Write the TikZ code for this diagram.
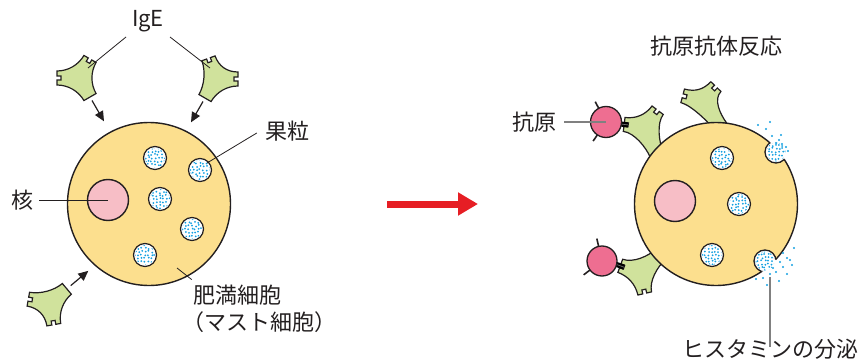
\documentclass[tikz,border=0pt]{standalone}
\usepackage{fontspec}
\newfontfamily\jp{Noto Sans CJK JP}
\usetikzlibrary{arrows.meta}

\definecolor{cellc}{RGB}{252,223,142}
\definecolor{abc}{RGB}{208,226,156}
\definecolor{nucc}{RGB}{247,190,198}
\definecolor{agc}{RGB}{238,110,145}
\definecolor{dotc}{RGB}{20,160,225}
\definecolor{txt}{RGB}{35,31,32}
\definecolor{redarrow}{RGB}{230,30,36}

\tikzset{
  lbl/.style={font=\jp\fontsize{22}{26}\selectfont, text=txt, inner sep=0pt},
  cellbody/.style={fill=cellc, draw=txt, line width=1.4pt},
  nucleus/.style={fill=nucc, draw=txt, line width=1.4pt},
  granedge/.style={fill=white, draw=txt, line width=1.2pt},
  ab/.style={fill=abc, draw=txt, line width=1.2pt, line join=miter},
  antigen/.style={fill=agc, draw=txt, line width=1.3pt},
  spike/.style={draw=txt, line width=1.6pt},
  epitope/.style={draw=black, double=black!55, double distance=0.7pt, line width=2.2pt},
  leader/.style={draw=txt, line width=0.8pt},
  greyleader/.style={draw=black!50, line width=1.3pt},
  bindarrow/.style={draw=txt, line width=1.2pt, -{Triangle[length=10pt,width=9pt]}},
  bigarrow/.style={draw=redarrow, line width=7pt, -{Triangle[length=20pt,width=22pt]}},
}

% IgE molecule: #1 centre, #2 stem angle, #3 stem length,
% #4/#5 angles of the two binding arms, #6 arm length, #7 name
\newcommand\antibody[7]{%
  \coordinate (#7) at (#1);
  \draw[ab, shift={(#1)}]
    ({#2-atan(7/#3)}:{veclen(#3,7)}) -- ({#2+atan(7/#3)}:{veclen(#3,7)})
    .. controls ({#2+atan(7/(#3-11))}:{veclen(#3-11,7)}) and ({#4-atan(7/(#6-11))}:{veclen(#6-11,7)})
    .. ({#4-atan(7/#6)}:{veclen(#6,7)})
    -- ({#4-atan(2/#6)}:{veclen(#6,2)}) -- ({#4-atan(2/(#6-4))}:{veclen(#6-4,2)})
    -- ({#4+atan(2/(#6-4))}:{veclen(#6-4,2)}) -- ({#4+atan(2/#6)}:{veclen(#6,2)})
    -- ({#4+atan(7/#6)}:{veclen(#6,7)})
    .. controls ({#4+atan(7/(#6-11))}:{veclen(#6-11,7)}) and ({#5-atan(7/(#6-11))}:{veclen(#6-11,7)})
    .. ({#5-atan(7/#6)}:{veclen(#6,7)})
    -- ({#5-atan(2/#6)}:{veclen(#6,2)}) -- ({#5-atan(2/(#6-4))}:{veclen(#6-4,2)})
    -- ({#5+atan(2/(#6-4))}:{veclen(#6-4,2)}) -- ({#5+atan(2/#6)}:{veclen(#6,2)})
    -- ({#5+atan(7/#6)}:{veclen(#6,7)})
    .. controls ({#5+atan(7/(#6-11))}:{veclen(#6-11,7)}) and ({#2-atan(7/(#3-11))}:{veclen(#3-11,7)})
    .. ({#2-atan(7/#3)}:{veclen(#3,7)}) -- cycle;
}

% antigen piece held in a binding notch: #1 antibody, #2 arm angle, #3 arm length
\newcommand\epitope[3]{%
  \draw[epitope, shift={(#1)}] ({#2}:{#3-4}) -- ({#2}:{#3+5});
}

% granule with histamine dots: #1 name, #2 centre, #3 radius
\newcommand\granule[3]{%
  \coordinate (#1) at (#2);
  \draw[granedge] (#1) circle (#3);
  \begin{scope}
    \clip (#1) circle ({#3-1.6});
    \foreach \i in {-4,...,4}{\foreach \j in {-4,...,4}{
      \fill[dotc] ([shift={({\i*3.3+0.9*rand},{\j*3.3+0.9*rand})}]#1) circle (1);
    }}
  \end{scope}
}

\begin{document}
\begin{tikzpicture}[x=1pt,y=-1pt]
\pgfmathsetseed{11}
\useasboundingbox (0,0) rectangle (862,361);

% ---------- before: free IgE and the mast cell ----------
\antibody{79,78}{60}{22}{180}{300}{22}{abA}
\antibody{216,79}{120}{22}{250}{360}{22}{abB}
\antibody{50,303}{320}{22}{440}{550}{22}{abC}

\coordinate (cellL) at (149,204);
\draw[cellbody] (cellL) circle (81.5);
\coordinate (nucL) at (108,200);
\draw[nucleus] (nucL) circle (20.5);
\granule{gL1}{155,158}{11.5}
\granule{gL2}{200,170}{11.5}
\granule{gL3}{160,199}{11.5}
\granule{gL4}{192,229}{11.5}
\granule{gL5}{145,255}{11.5}

\draw[bindarrow] ([shift={(60:26)}]abA) -- ([shift={(60:50)}]abA);
\draw[bindarrow] ([shift={(120:26)}]abB) -- ([shift={(120:50)}]abB);
\draw[bindarrow] ([shift={(320:27)}]abC) -- ([shift={(320:50)}]abC);

\node[lbl] (ige) at (148,21) {IgE};
\draw[leader] ([shift={(-22,16)}]ige.center) -- ([shift={(9,-10)}]abA);
\draw[leader] ([shift={(22,16)}]ige.center) -- ([shift={(-6,-11)}]abB);

\node[lbl] (kaku) at (22,200) {核};
\draw[leader] ([xshift=6pt]kaku.east) -- (nucL);

\node[lbl] (kari) at (287,131) {果粒};
\coordinate (kariEnd) at (207,163);
\draw[leader] ([shift={(-8,2)}]kari.west) -- (kariEnd);

\node[lbl] (himan) at (237,295) {肥満細胞};
\node[lbl] (mast) at (259,322) {（マスト細胞）};
\coordinate (himanEnd) at (177,268);
\draw[leader] ([shift={(-1,-5)}]himan.north west) -- (himanEnd);

% ---------- reaction arrow ----------
\coordinate (arrS) at (387,204);
\coordinate (arrE) at (478,204);
\draw[bigarrow] (arrS) -- (arrE);

% ---------- after: antigen bridging bound IgE ----------
\antibody{645,127}{67}{30}{187}{307}{21}{abD}
\antibody{702,101}{54}{32}{195}{314}{20}{abE}
\antibody{640,273}{318}{28}{437}{560}{21}{abF}
\epitope{abD}{187}{21}
\epitope{abF}{560}{21}

\coordinate (ag1) at (606,122);
\draw[spike] ([shift={(-118:13)}]ag1) -- ([shift={(-118:23)}]ag1);
\draw[spike] ([shift={(124:13)}]ag1) -- ([shift={(124:23)}]ag1);
\node[antigen, circle, minimum size=31pt, inner sep=0pt] (agA) at (ag1) {};

\coordinate (ag2) at (602,261);
\draw[spike] ([shift={(-103:13)}]ag2) -- ([shift={(-103:23)}]ag2);
\draw[spike] ([shift={(143:13)}]ag2) -- ([shift={(143:23)}]ag2);
\node[antigen, circle, minimum size=30pt, inner sep=0pt] (agB) at (ag2) {};

\coordinate (cellR) at (716,204);
\draw[cellbody] (cellR) circle (81.5);
\coordinate (nucR) at (675,201);
\draw[nucleus] (nucR) circle (20.5);
\granule{gR1}{722,158}{11.5}
\granule{gR2}{739,204}{11.5}
\granule{gR3}{712,255}{11.5}

% granules opening at the membrane
\coordinate (pk1) at (776,152);
\coordinate (pk2) at (765,261);
\fill[white] (pk1) circle (11);
\fill[white] (pk2) circle (11);
\begin{scope}
  \clip (cellR) circle (81.5);
  \draw[txt, line width=1.3pt] (pk1) circle (11);
  \draw[txt, line width=1.3pt] (pk2) circle (11);
\end{scope}
\begin{scope}
  \clip (pk1) circle (9.5) (pk2) circle (9.5);
  \foreach \c in {pk1,pk2}{
    \foreach \i in {-4,...,4}{\foreach \j in {-4,...,4}{
      \fill[dotc] ([shift={({\i*3.3+0.9*rand},{\j*3.3+0.9*rand})}]\c) circle (1);
    }}
  }
\end{scope}
\foreach \p in {(758,125),(770,122),(766,129),(772,136),(781,135),(776,143),
                (782,144),(786,147),(779,140),(788,151)}
  \fill[dotc] \p circle (1.05);
\foreach \p in {(794,248),(787,258),(792,265),(783,267),(780,262),(773,268),
                (787,274),(779,281),(763,278),(756,279),(767,285),(783,253),
                (790,260),(776,272),(770,274)}
  \fill[dotc] \p circle (1.05);

\node[lbl] (hanno) at (716,46) {抗原抗体反応};
\node[lbl] (kogen) at (534,122) {抗原};
\draw[greyleader] ([xshift=8pt]kogen.east) -- (ag1);

\node[lbl] (hist) at (770,349) {ヒスタミンの分泌};
\coordinate (histTop) at (770,277);
\draw[greyleader] ([yshift=-8pt]hist.north) -- (histTop);
\end{tikzpicture}
\end{document}
